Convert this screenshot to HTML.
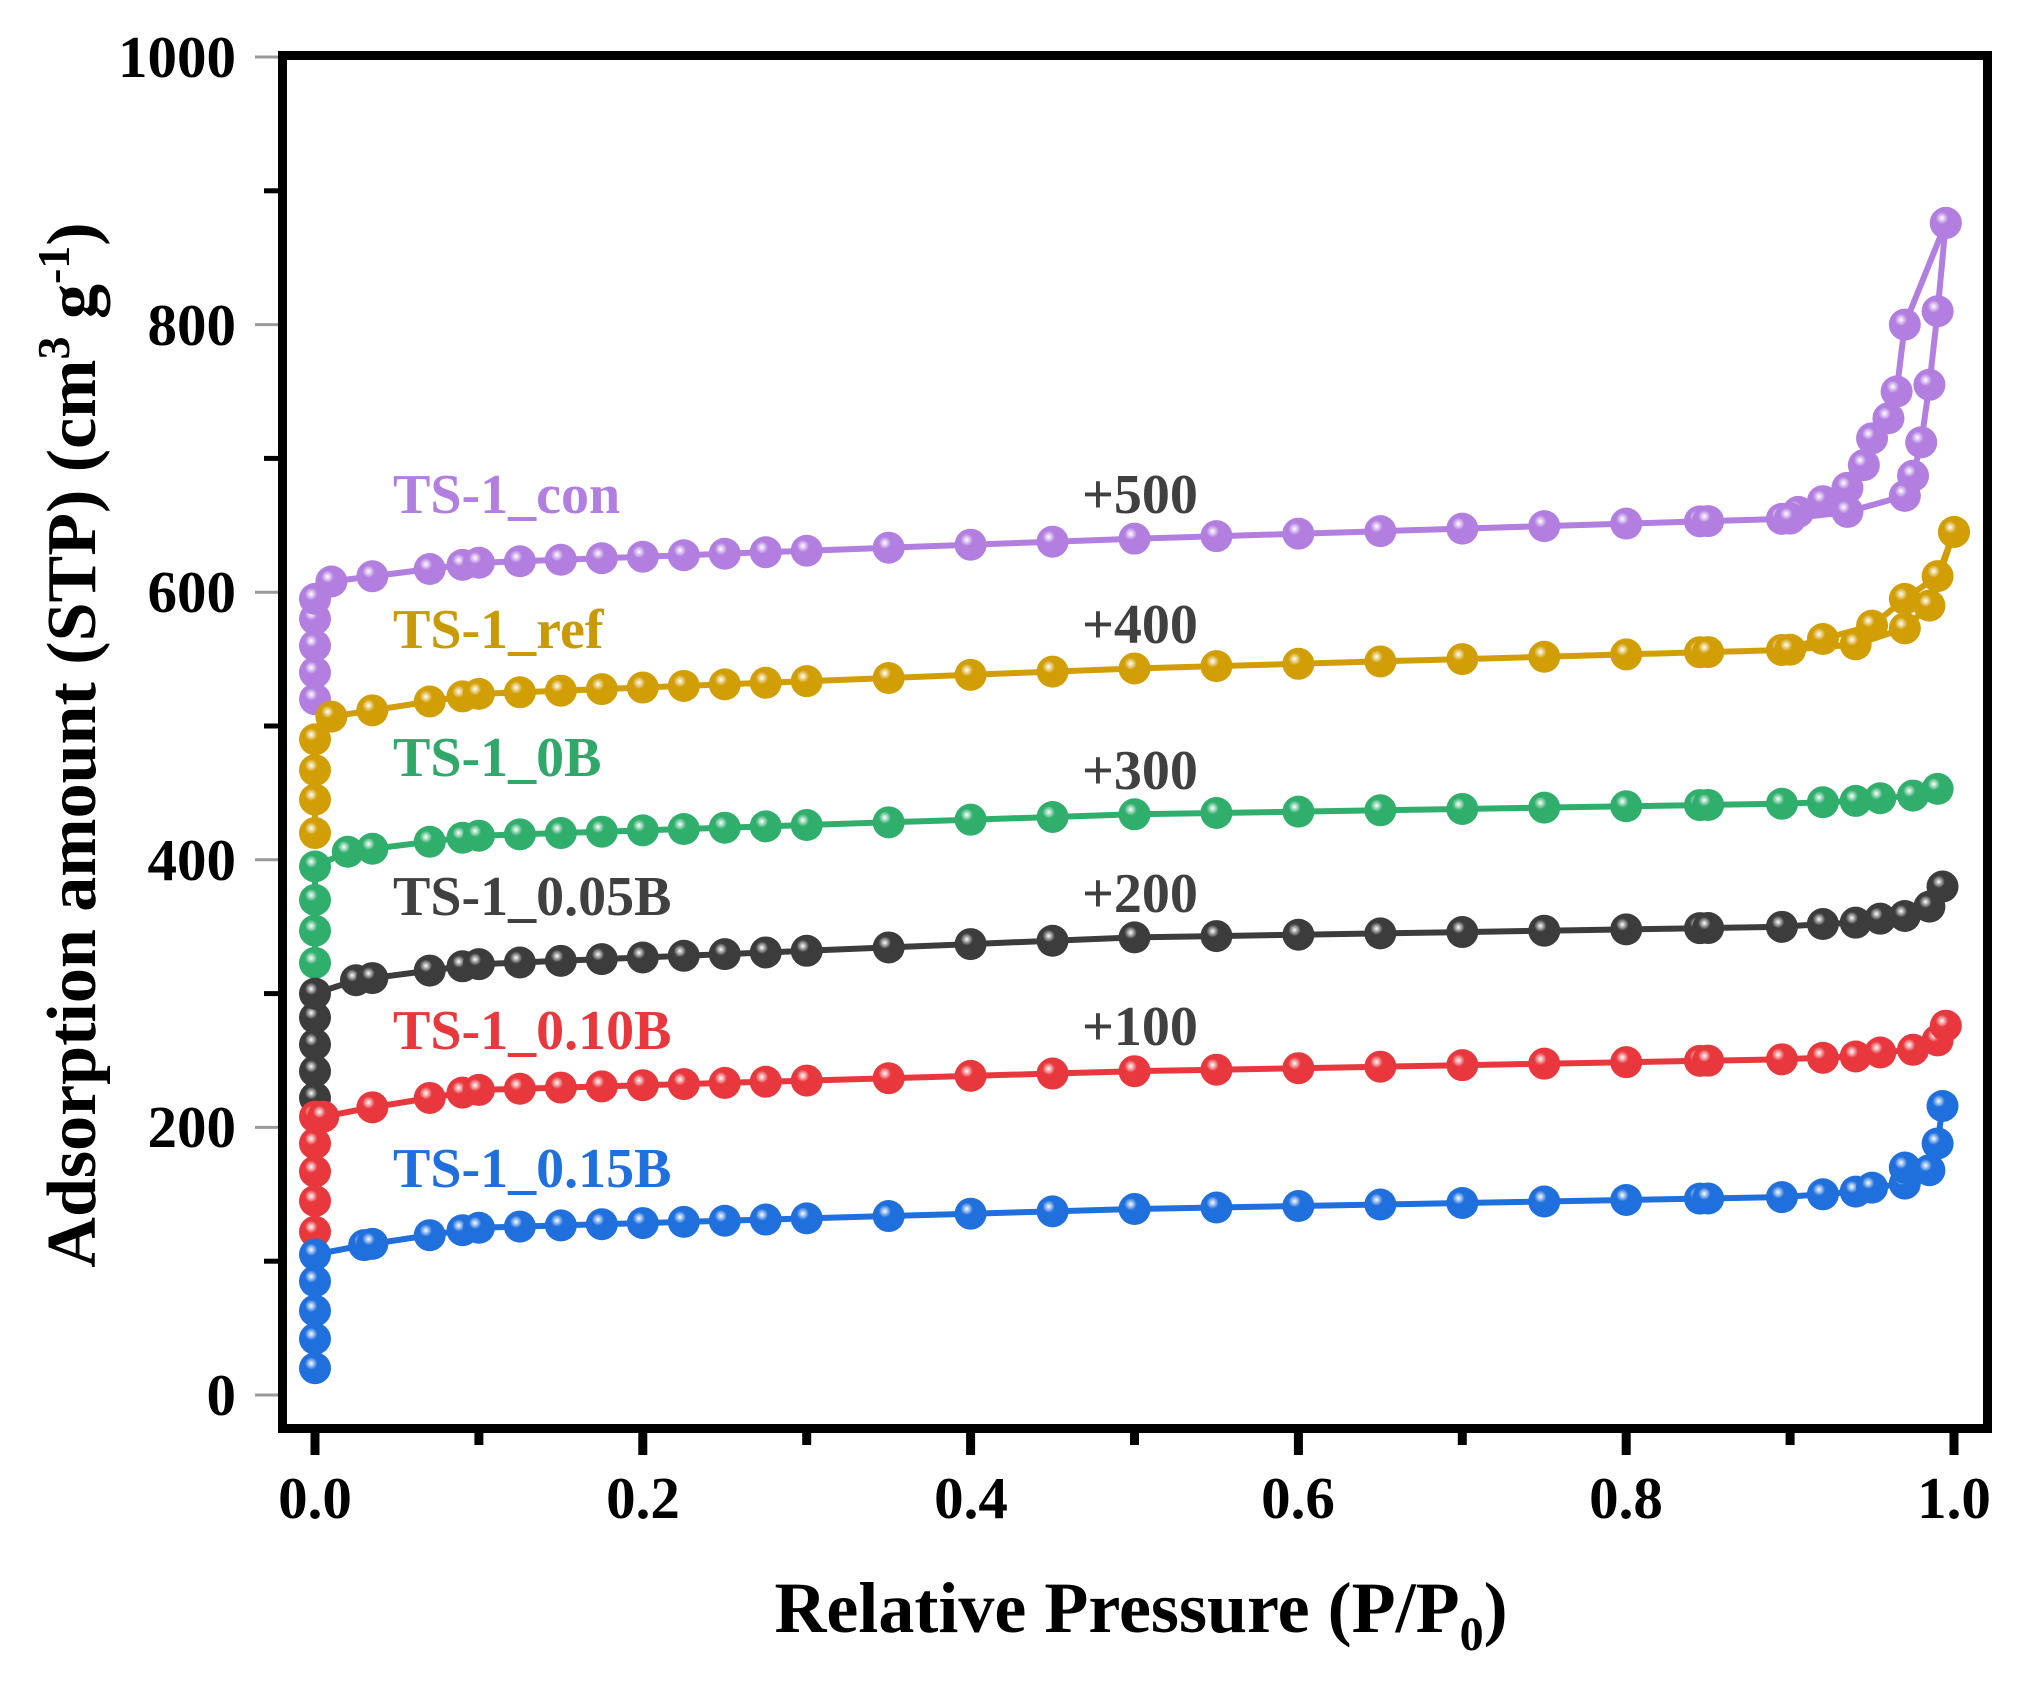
<!DOCTYPE html>
<html><head><meta charset="utf-8"><style>
html,body{margin:0;padding:0;background:#fff;}
svg{display:block;}
text{font-family:"Liberation Serif",serif;font-weight:bold;}
</style></head><body>
<svg id="s" width="2035" height="1682" viewBox="0 0 2035 1682" xmlns="http://www.w3.org/2000/svg">
<defs></defs>
<g id="ticks" stroke="#000"></g>
<g id="data"></g>
<rect x="282.5" y="55.5" width="1705" height="1373" fill="none" stroke="#000" stroke-width="9"/>
<g font-size="59" text-anchor="end" fill="#000">
<text x="236" y="1415">0</text>
<text x="236" y="1147">200</text>
<text x="236" y="880">400</text>
<text x="236" y="612">600</text>
<text x="236" y="345">800</text>
<text x="236" y="77">1000</text>
</g>
<g font-size="59" text-anchor="middle" fill="#000">
<text x="315" y="1518">0.0</text>
<text x="643" y="1518">0.2</text>
<text x="971" y="1518">0.4</text>
<text x="1298" y="1518">0.6</text>
<text x="1626" y="1518">0.8</text>
<text x="1954" y="1518">1.0</text>
</g>
<text x="1141" y="1632" font-size="72" text-anchor="middle" fill="#000">Relative Pressure (P/P<tspan font-size="48" dy="18">0</tspan><tspan dy="-18">)</tspan></text>
<text transform="translate(95,745) rotate(-90)" font-size="70" text-anchor="middle" fill="#000">Adsorption amount (STP) (cm<tspan font-size="46" dy="-26">3</tspan><tspan dy="26"> g</tspan><tspan font-size="46" dy="-26">-1</tspan><tspan dy="26">)</tspan></text>
<g font-size="56">
<text x="393" y="513" fill="#b27ee0">TS-1_con</text>
<text x="393" y="648" fill="#c99a06">TS-1_ref</text>
<text x="393" y="776" fill="#2fa86a">TS-1_0B</text>
<text x="393" y="915" fill="#404040">TS-1_0.05B</text>
<text x="393" y="1049" fill="#e8383d">TS-1_0.10B</text>
<text x="393" y="1187" fill="#1f6fdc">TS-1_0.15B</text>
</g>
<g font-size="56" fill="#404040">
<text x="1082" y="513">+500</text>
<text x="1082" y="643">+400</text>
<text x="1082" y="789">+300</text>
<text x="1082" y="912">+200</text>
<text x="1082" y="1045">+100</text>
</g>
</svg>
<script>
const NS="http://www.w3.org/2000/svg";
const X=p=>315+1639*p, Y=v=>1395-1.338*v;
const svg=document.getElementById('s'),defs=svg.querySelector('defs'),tk=document.getElementById('ticks'),dg=document.getElementById('data');
function el(t,a,par){const e=document.createElementNS(NS,t);for(const k in a)e.setAttribute(k,a[k]);par.appendChild(e);return e;}
for(let i=0;i<=10;i++){const x=X(i/10);el('line',{x1:x,x2:x,y1:1433,y2:i%2?1445:1455,'stroke-width':9},tk);}
for(let i=0;i<=10;i++){const y=Y(i*100);el('line',{x1:i%2?264:255,x2:278,y1:y,y2:y,'stroke-width':i%2?5:3,stroke:i%2?'#000':'#999'},tk);}
const S=[
{c:'#b27ee0',col:[520,540,560,580,595],an:[[0.01,608],[0.1,622],[0.5,640],[0.9,655]],tail:[[0.905,660],[0.92,668],[0.935,678],[0.945,695],[0.95,715],[0.96,730],[0.965,750],[0.97,800],[0.995,876]],des:[[0.995,876],[0.99,810],[0.985,755],[0.98,712],[0.975,687],[0.97,672],[0.935,660],[0.9,655]]},
{c:'#d29e06',col:[420,445,467,490],an:[[0.01,507],[0.1,524],[0.5,543],[0.9,557]],tail:[[0.92,565],[0.95,575],[0.97,595],[0.99,612],[1.0,645]],des:[[1.0,645],[0.985,590],[0.97,573],[0.94,561],[0.9,557]]},
{c:'#2fae6c',col:[323,347,370,395],an:[[0.02,406],[0.1,418],[0.5,434],[0.9,442]],tail:[[0.92,443],[0.94,444],[0.955,446],[0.975,448],[0.99,453]]},
{c:'#3c3c3c',col:[222,242,262,282,300],an:[[0.025,310],[0.1,322],[0.5,342],[0.9,350]],tail:[[0.92,352],[0.94,353],[0.955,356],[0.97,358],[0.985,365],[0.993,380]]},
{c:'#e8383d',col:[122,145,167,188,208],an:[[0.005,208],[0.035,215],[0.1,228],[0.5,242],[0.9,251]],tail:[[0.92,252],[0.94,253],[0.955,256],[0.975,258],[0.99,265],[0.995,276]]},
{c:'#1f6fdc',col:[20,42,63,85,105],an:[[0.03,112],[0.1,125],[0.5,139],[0.9,148]],tail:[[0.92,150],[0.94,152],[0.95,155],[0.97,158],[0.97,170],[0.985,168],[0.99,188],[0.993,216]]}
];
const ps=[0.035,0.07,0.09,0.1,0.125,0.15,0.175,0.2,0.225,0.25,0.275,0.3,0.35,0.4,0.45,0.5,0.55,0.6,0.65,0.7,0.75,0.8,0.845,0.85,0.895];
function interp(an,p){if(p<=an[0][0])return an[0][1];for(let i=1;i<an.length;i++){if(p<=an[i][0]){const a=an[i-1],b=an[i];return a[1]+(b[1]-a[1])*(p-a[0])/(b[0]-a[0]);}}return an[an.length-1][1];}
S.forEach((s,k)=>{
 const g=el('radialGradient',{id:'g'+k,cx:'0.38',cy:'0.35',r:'0.65'},defs);
 el('stop',{offset:'0','stop-color':'#fff'},g);el('stop',{offset:'0.3','stop-color':s.c},g);el('stop',{offset:'1','stop-color':s.c},g);
 let pts=s.col.map(v=>[0,v]);
 pts.push(s.an[0]);
 ps.forEach(p=>{if(p>s.an[0][0])pts.push([p,interp(s.an,p)]);});
 pts=pts.concat(s.tail);
 const d=pts.map((q,i)=>(i?'L':'M')+X(q[0]).toFixed(1)+' '+Y(q[1]).toFixed(1)).join(' ');
 el('path',{d:d,fill:'none',stroke:s.c,'stroke-width':6},dg);
 let all=pts.slice();
 if(s.des){const dd=s.des.map((q,i)=>(i?'L':'M')+X(q[0]).toFixed(1)+' '+Y(q[1]).toFixed(1)).join(' ');el('path',{d:dd,fill:'none',stroke:s.c,'stroke-width':6},dg);all=all.concat(s.des);}
 all.forEach(q=>el('circle',{cx:X(q[0]),cy:Y(q[1]),r:16,fill:'url(#g'+k+')'},dg));
});
</script>
</body></html>
